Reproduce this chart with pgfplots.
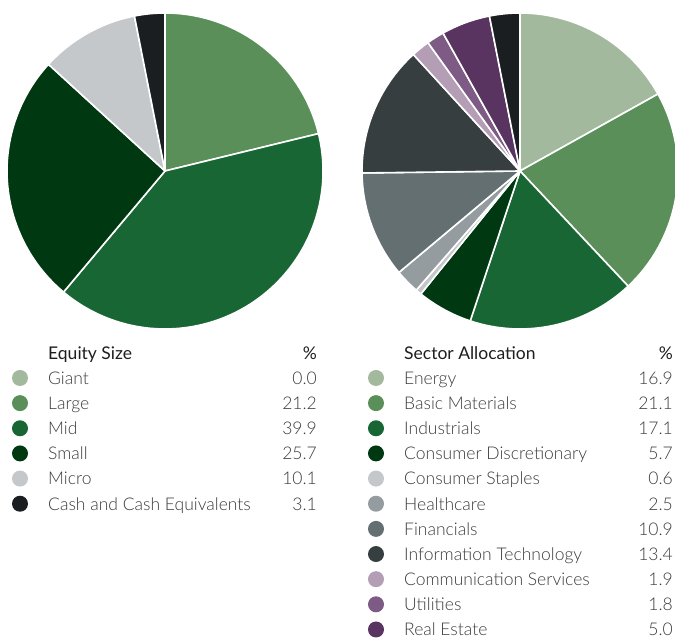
\documentclass[border=0pt]{standalone}
\usepackage{fontspec}
\setmainfont{Lato}[UprightFont=* Light, BoldFont=*]
\usepackage{pgfplots}
\usepackage{pgfplotstable}
\pgfplotsset{compat=1.18}
\pgfdeclareplotmark{empty}{}
\definecolor{k0}{HTML}{A3B99D}
\definecolor{k1}{HTML}{5A8F5A}
\definecolor{k2}{HTML}{186634}
\definecolor{k3}{HTML}{003812}
\definecolor{k4}{HTML}{C5C8CA}
\definecolor{k5}{HTML}{949C9F}
\definecolor{k6}{HTML}{646F72}
\definecolor{k7}{HTML}{363E40}
\definecolor{k8}{HTML}{B49EB5}
\definecolor{k9}{HTML}{7D5B84}
\definecolor{k10}{HTML}{5A3461}
\definecolor{k11}{HTML}{1A1E21}
\definecolor{txt}{HTML}{3A3A3A}
\definecolor{head}{HTML}{1E1E1E}

\pgfplotstableread[col sep=comma,row sep=\\]{
label,value,cidx\\
Giant,0.0,0\\
Large,21.2,1\\
Mid,39.9,2\\
Small,25.7,3\\
Micro,10.1,4\\
Cash and Cash Equivalents,3.1,11\\
}\equity
\pgfplotstablecreatecol[create col/expr accum={\pgfmathaccuma + \thisrow{value}}{0}]{cum}{\equity}
\pgfplotstablecreatecol[create col/expr={165}]{cx}{\equity}
\pgfplotstablecreatecol[create col/expr={-171}]{cy}{\equity}
\pgfplotstablecreatecol[create col/expr={-378-25.15*\pgfplotstablerow}]{ly}{\equity}
\pgfplotstablecreatecol[create col/expr={20}]{dotx}{\equity}
\pgfplotstablecreatecol[create col/expr={48}]{labx}{\equity}
\pgfplotstablecreatecol[create col/expr={317}]{valx}{\equity}

\pgfplotstableread[col sep=comma,row sep=\\]{
label,value,cidx\\
Energy,16.9,0\\
Basic Materials,21.1,1\\
Industrials,17.1,2\\
Consumer Discretionary,5.7,3\\
Consumer Staples,0.6,4\\
Healthcare,2.5,5\\
Financials,10.9,6\\
Information Technology,13.4,7\\
Communication Services,1.9,8\\
Utilities,1.8,9\\
Real Estate,5.0,10\\
Cash,3.1,11\\
}\sector
\pgfplotstablecreatecol[create col/expr accum={\pgfmathaccuma + \thisrow{value}}{0}]{cum}{\sector}
\pgfplotstablecreatecol[create col/expr={520}]{cx}{\sector}
\pgfplotstablecreatecol[create col/expr={-171}]{cy}{\sector}
\pgfplotstablecreatecol[create col/expr={-378-25.15*\pgfplotstablerow}]{ly}{\sector}
\pgfplotstablecreatecol[create col/expr={376}]{dotx}{\sector}
\pgfplotstablecreatecol[create col/expr={404}]{labx}{\sector}
\pgfplotstablecreatecol[create col/expr={673}]{valx}{\sector}

\pgfplotsset{
  pieslice/.style={
    scatter, only marks, mark=empty, point meta=\thisrow{value},
    scatter/use mapped color={draw=none, fill=none},
    visualization depends on={\thisrow{value}\as\valv},
    visualization depends on={\thisrow{cum}\as\cumv},
    visualization depends on={\thisrow{cidx}\as\cidxv},
    scatter/@pre marker code/.code={%
      \pgfmathsetmacro\angA{90-3.6*(\cumv-\valv)}%
      \pgfmathsetmacro\angB{90-3.6*\cumv}%
      \pgfmathtruncatemacro\ci{\cidxv}%
      \path[fill=k\ci, draw=white, line width=1.6pt, line join=round]
        (0pt,0pt) -- (\angA:158pt) arc[start angle=\angA, end angle=\angB, radius=158pt] -- cycle;
    },
    scatter/@post marker code/.code={},
  },
  legdot/.style={
    scatter, only marks, mark=empty, point meta=\thisrow{cidx},
    scatter/use mapped color={draw=none, fill=none},
    visualization depends on={\thisrow{cidx}\as\cidxv},
    scatter/@pre marker code/.code={%
      \pgfmathtruncatemacro\ci{\cidxv}%
      \path[fill=k\ci, draw=none] (0pt,0pt) circle[radius=8pt];},
    scatter/@post marker code/.code={},
  },
  legtext/.style={
    only marks, mark=empty, point meta=explicit symbolic,
    nodes near coords,
    every node near coord/.style={anchor=base #1, inner sep=0pt, yshift=-6.3pt, font=\fontsize{17.5}{19}\selectfont, text=txt},
  },
}

\begin{document}
\begin{tikzpicture}
\begin{axis}[
  hide axis, clip=false, scale only axis,
  x=1pt, y=1pt,
  xmin=0, xmax=675, ymin=-639, ymax=0,
]
% pies
\addplot[pieslice] table[x=cx, y=cy] {\equity};
\addplot[pieslice] table[x=cx, y=cy] {\sector};
% legend left
\addplot[legdot] table[x=dotx, y=ly] {\equity};
\addplot[legtext=west] table[x=labx, y=ly, meta=label] {\equity};
\addplot[legtext=east] table[x=valx, y=ly, meta=value] {\equity};
% legend right
\addplot[legdot, skip coords between index={11}{12}] table[x=dotx, y=ly] {\sector};
\addplot[legtext=west, skip coords between index={11}{12}] table[x=labx, y=ly, meta=label] {\sector};
\addplot[legtext=east, skip coords between index={11}{12}] table[x=valx, y=ly, meta=value] {\sector};
% headers
\node[anchor=base west, inner sep=0pt, font=\bfseries\fontsize{17.5}{19}\selectfont, text=head] at (axis cs:48,-359.3) {Equity Size};
\node[anchor=base east, inner sep=0pt, font=\bfseries\fontsize{17.5}{19}\selectfont, text=head] at (axis cs:317,-359.3) {\%};
\node[anchor=base west, inner sep=0pt, font=\bfseries\fontsize{17.5}{19}\selectfont, text=head] at (axis cs:404,-359.3) {Sector Allocation};
\node[anchor=base east, inner sep=0pt, font=\bfseries\fontsize{17.5}{19}\selectfont, text=head] at (axis cs:673,-359.3) {\%};
\end{axis}
\pgfresetboundingbox
\useasboundingbox (current axis.south west) rectangle (current axis.north east);
\end{tikzpicture}
\end{document}
